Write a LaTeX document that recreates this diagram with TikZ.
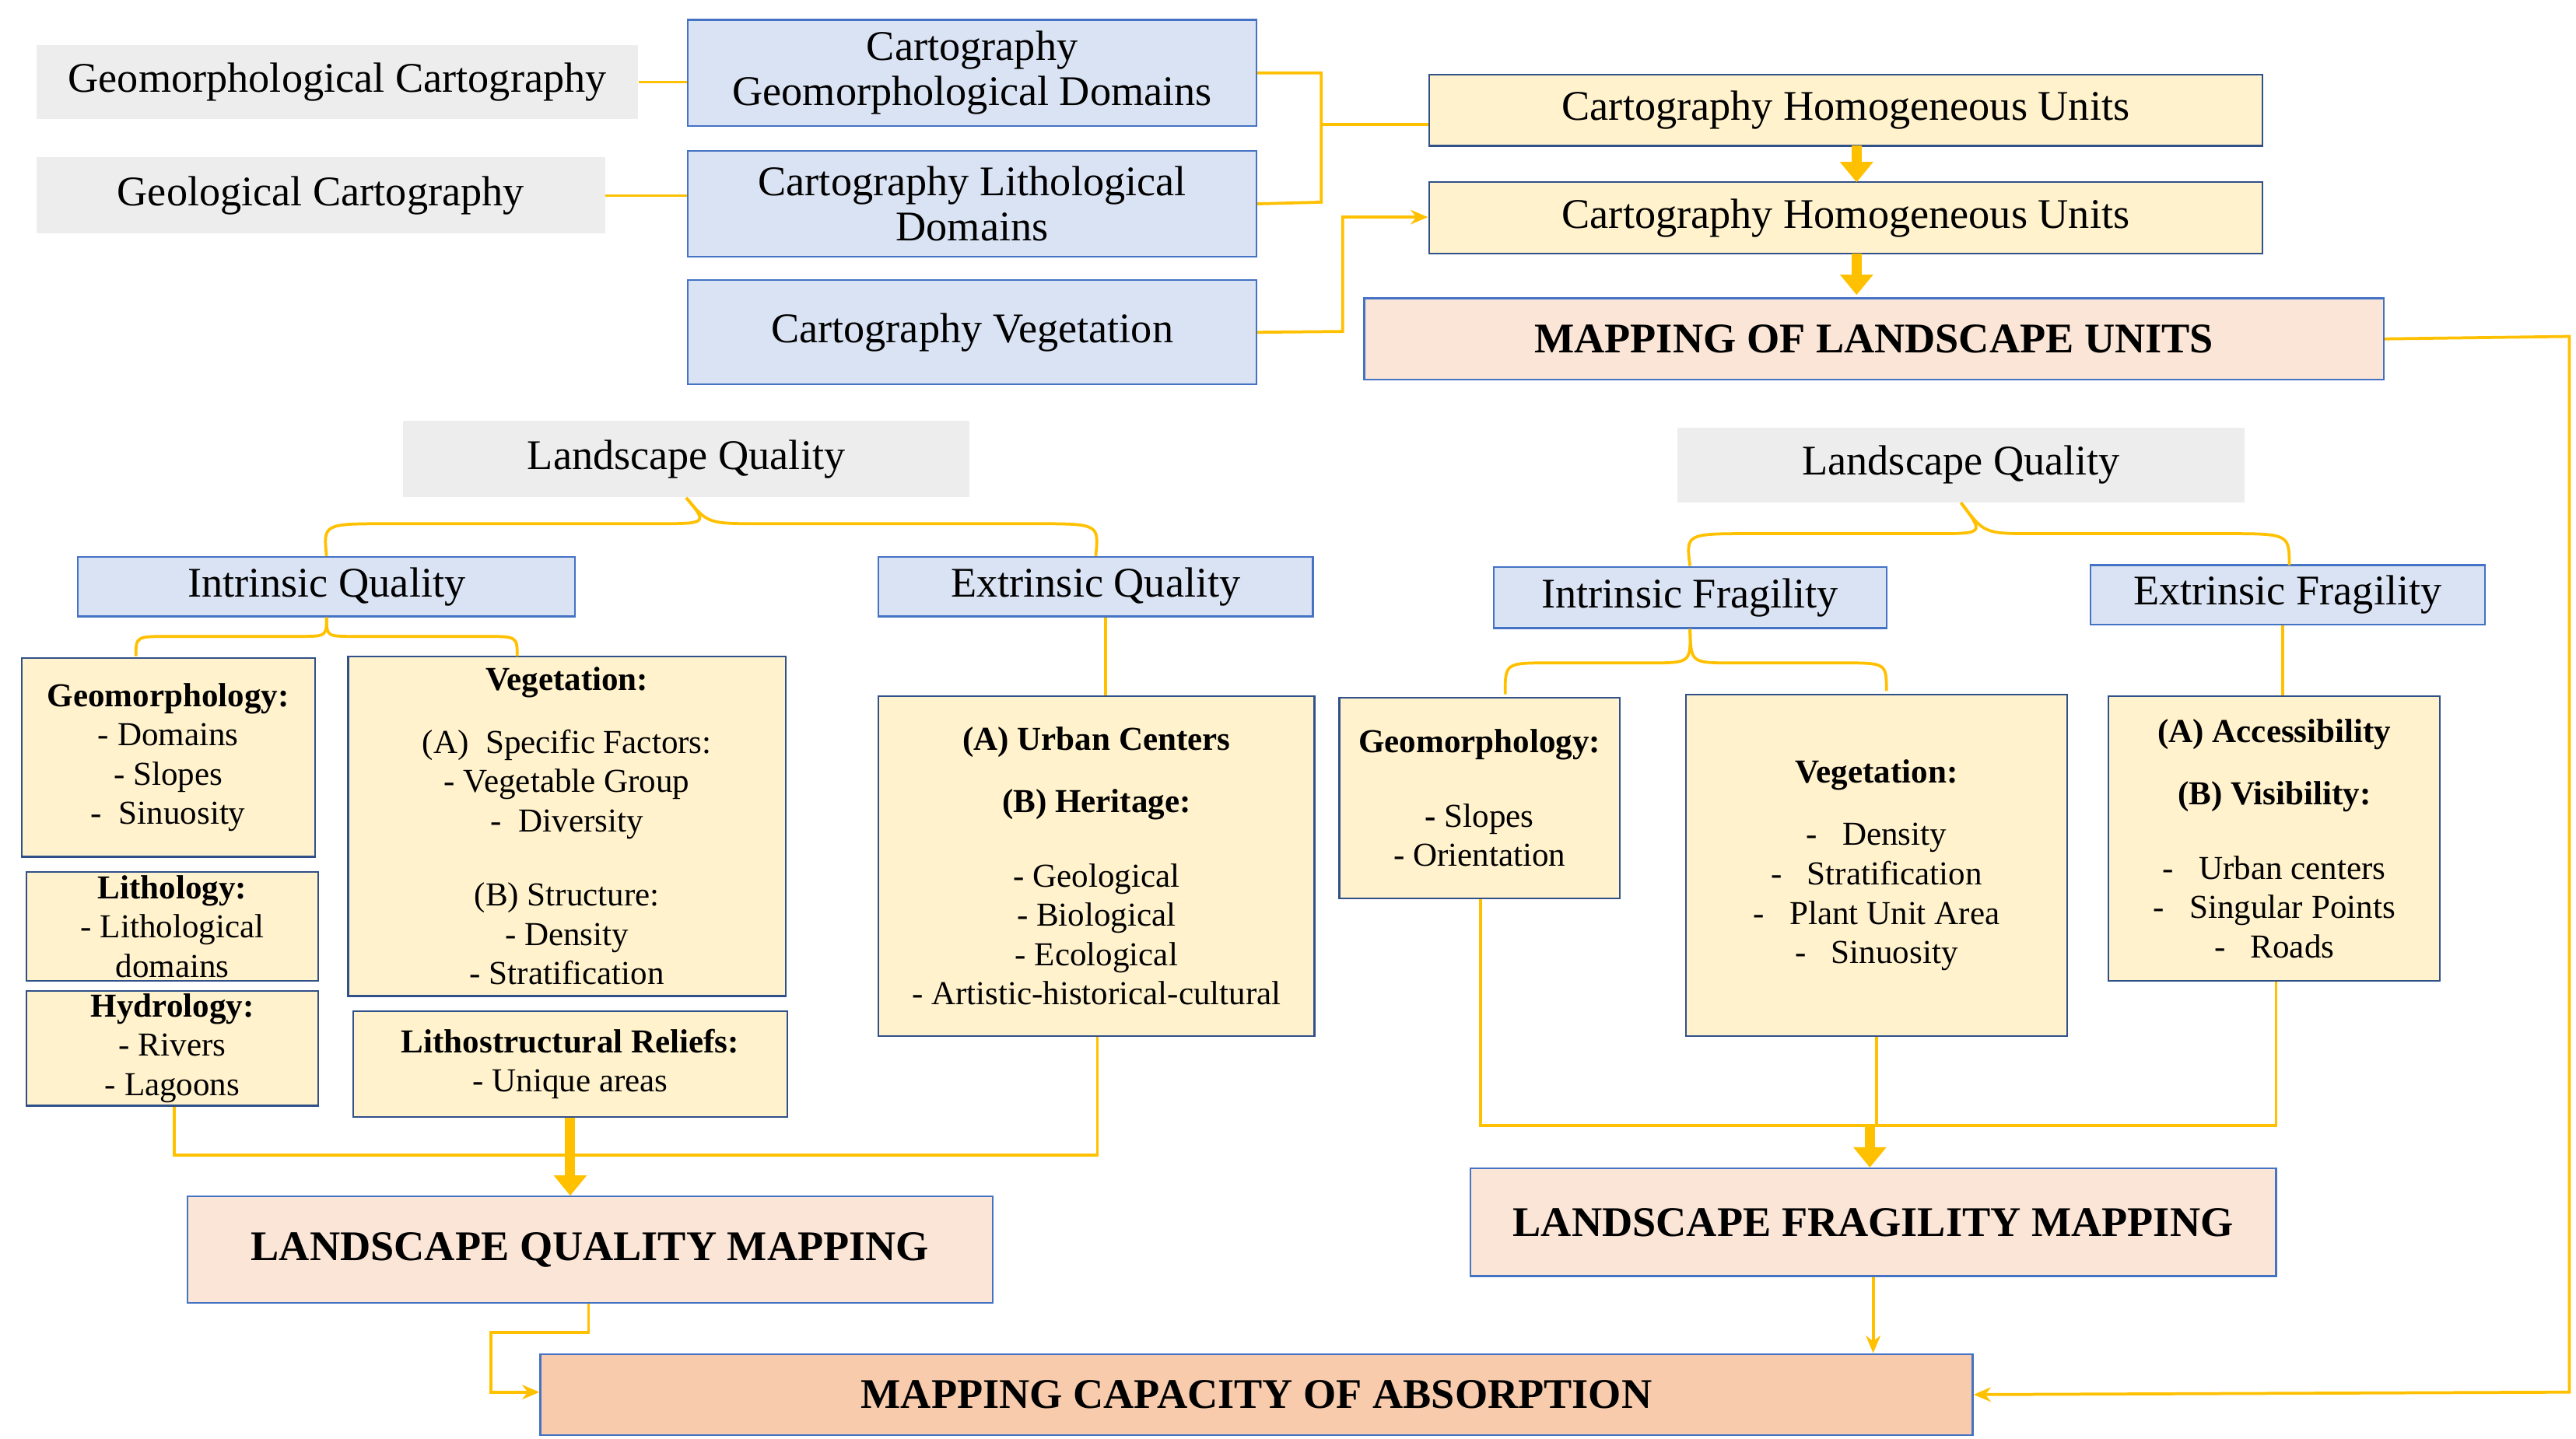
\documentclass[tikz,border=0pt]{standalone}
\usepackage{fontspec}
\setmainfont{Liberation Serif}
\usetikzlibrary{arrows.meta,calc}
\definecolor{lgray}{HTML}{EDEDED}
\definecolor{lblue}{HTML}{DAE3F3}
\definecolor{bblue}{HTML}{4472C4}
\definecolor{lyel}{HTML}{FFF2CC}
\definecolor{lpink}{HTML}{FBE5D6}
\definecolor{lorange}{HTML}{F8CBAD}
\definecolor{gold}{HTML}{FFC000}
\tikzset{
 gbox/.style={fill=lgray,draw=none,font=\fontsize{14.5}{17}\selectfont},
 bbox/.style={fill=lblue,draw=bblue,line width=0.6pt,font=\fontsize{14.5}{15.5}\selectfont,align=center},
 ybox/.style={fill=lyel,draw=bblue!70!black,line width=0.6pt,font=\fontsize{11.5}{13.5}\selectfont,align=center},
 pbox/.style={fill=lpink,draw=bblue,line width=0.6pt,font=\bfseries\fontsize{14.5}{17}\selectfont},
 obox/.style={fill=lorange,draw=bblue,line width=0.6pt,font=\bfseries\fontsize{14.5}{17}\selectfont},
 con/.style={draw=gold,line width=1pt},
 arr/.style={con,-{Stealth[length=6pt,width=5pt]}},
 fat/.style={draw=gold,line width=3.5pt,-{Triangle[length=7pt,width=11pt]}},
}
\newcommand\bx[7]{\node[#6,inner sep=1pt,minimum width={(#4-#2)*0.02cm},minimum height={(#5-#3)*0.02cm}] (#1) at ({(#2+#4)/2},{(#3+#5)/2}) {#7};}
\begin{document}
\begin{tikzpicture}[x=0.02cm,y=-0.02cm]
\useasboundingbox (0,0) rectangle (1554,868);
\bx{gc}{22}{27}{385}{72}{gbox}{Geomorphological Cartography}
\bx{lc}{22}{95}{365}{141}{gbox}{Geological Cartography}
\bx{gd}{415}{12}{758}{76}{bbox}{Cartography\\Geomorphological Domains}
\bx{ld}{415}{91}{758}{155}{bbox}{Cartography Lithological\\Domains}
\bx{cv}{415}{169}{758}{232}{bbox}{Cartography Vegetation}
\bx{h1}{862}{45}{1365}{88}{ybox,font=\fontsize{14.5}{17}\selectfont}{Cartography Homogeneous Units}
\bx{h2}{862}{110}{1365}{153}{ybox,font=\fontsize{14.5}{17}\selectfont}{Cartography Homogeneous Units}
\bx{mlu}{823}{180}{1438}{229}{pbox}{MAPPING OF LANDSCAPE UNITS}
\bx{lq}{243}{254}{585}{300}{gbox}{Landscape Quality}
\bx{rq}{1012}{258}{1354}{303}{gbox}{Landscape Quality}
\bx{iq}{47}{336}{347}{372}{bbox}{Intrinsic Quality}
\bx{eq}{530}{336}{792}{372}{bbox}{Extrinsic Quality}
\bx{if}{901}{342}{1138}{379}{bbox}{Intrinsic Fragility}
\bx{ef}{1261}{341}{1499}{377}{bbox}{Extrinsic Fragility}
\bx{geo}{13}{397}{190}{517}{ybox}{\textbf{Geomorphology:}\\- Domains\\- Slopes\\- \ Sinuosity}
\bx{lit}{16}{526}{192}{592}{ybox}{\textbf{Lithology:}\\- Lithological\\domains}
\bx{hyd}{16}{601}{192}{664}{ybox}{\textbf{Hydrology:}\\- Rivers\\- Lagoons}
\bx{veg}{210}{396}{474}{601}{ybox}{\textbf{Vegetation:}\\[8pt](A)\ \ Specific Factors:\\- Vegetable Group\\- \ Diversity\\[12pt](B) Structure:\\- Density\\- Stratification}
\bx{lsr}{213}{610}{475}{674}{ybox}{\textbf{Lithostructural Reliefs:}\\- Unique areas}
\bx{urb}{530}{420}{793}{625}{ybox}{\textbf{(A) Urban Centers}\\[8pt]\textbf{(B) Heritage:}\\[12pt]- Geological\\- Biological\\- Ecological\\- Artistic-historical-cultural}
\bx{geor}{808}{421}{977}{542}{ybox}{\textbf{Geomorphology:}\\[12pt]\textbf{-} Slopes\\- Orientation}
\bx{vegr}{1017}{419}{1247}{625}{ybox}{\textbf{Vegetation:}\\[8pt]- \ \ Density\\- \ \ Stratification\\- \ \ Plant Unit Area\\- \ \ Sinuosity}
\bx{acc}{1272}{420}{1472}{592}{ybox}{\textbf{(A) Accessibility}\\[8pt]\textbf{(B) Visibility:}\\[12pt]- \ \ Urban centers\\- \ \ Singular Points\\- \ \ Roads}
\bx{lqm}{113}{722}{599}{786}{pbox}{LANDSCAPE QUALITY MAPPING}
\bx{lfm}{887}{705}{1373}{770}{pbox}{LANDSCAPE FRAGILITY MAPPING}
\bx{mca}{326}{817}{1190}{866}{obox}{MAPPING CAPACITY OF ABSORPTION}
% top connectors
\draw[con] (gc.east) -- (gd.west|-gc.east);
\draw[con] (lc.east) -- (ld.west|-lc.east);
\draw[con] (gd.east) -- (797,44) -- (797,122) -- (ld.east);
\draw[con] (797,75) -- (h1.west|-797,75);
\draw[arr] (cv.east) -- (810,200) -- (810,131) -- (h2.west|-810,131);
\draw[fat] (1120,88) -- (1120,110);
\draw[fat] (1120,153) -- (1120,178);
\draw[arr] (mlu.east) -- (1550,203) -- (1550,840) -- (mca.east);
% braces
\draw[con] (iq.north) .. controls (195,316) .. (235,316) -- (395,316) .. controls (427,316) .. (lq.south);
\draw[con] (eq.north) .. controls (663,316) .. (623,316) -- (459,316) .. controls (427,316) .. (lq.south);
\draw[con] (82,396) .. controls (82,384) .. (102,384) -- (180,384) .. controls (197,384) .. (iq.south);
\draw[con] (312,396) .. controls (312,384) .. (292,384) -- (214,384) .. controls (197,384) .. (iq.south);
\draw[con] (if.north) .. controls (1017,322) .. (1057,322) -- (1167,322) .. controls (1197,322) .. (rq.south);
\draw[con] (1381,341) .. controls (1381,322) .. (1341,322) -- (1227,322) .. controls (1197,322) .. (rq.south);
\draw[con] (908,419) .. controls (908,400) .. (935,400) -- (995,400) .. controls (1020,400) .. (if.south);
\draw[con] (1138,417) .. controls (1138,400) .. (1111,400) -- (1045,400) .. controls (1020,400) .. (if.south);
\draw[con] (eq.south-|667,0) -- (urb.north-|667,0);
\draw[con] (ef.south-|1377,0) -- (acc.north-|1377,0);
% bottom left
\draw[con] (hyd.south-|105,0) -- (105,697) -- (662,697) -- (urb.south-|662,0);
\draw[fat] (lsr.south-|344,0) -- (lqm.north-|344,0);
% bottom right
\draw[con] (geor.south-|893,0) -- (893,679) -- (1373,679) -- (acc.south-|1373,0);
\draw[con] (vegr.south-|1132,0) -- (1132,679);
\draw[fat] (1128,679) -- (lfm.north-|1128,0);
\draw[arr] (lqm.south-|355,0) -- (355,804) -- (296,804) -- (296,840) -- (mca.west|-296,840);
\draw[arr] (lfm.south-|1130,0) -- (mca.north-|1130,0);
\end{tikzpicture}
\end{document}
